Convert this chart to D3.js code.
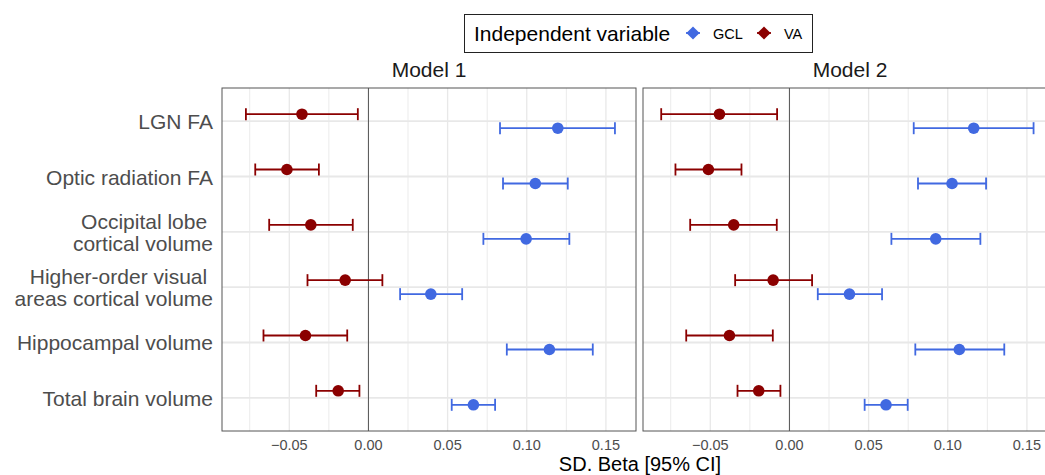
<!DOCTYPE html>
<html>
<head>
<meta charset="utf-8">
<script src="https://cdn.jsdelivr.net/npm/d3@7"></script>
<style>
  body { margin: 0; background: #fff; }
  svg { font-family: "Liberation Sans", Arial, sans-serif; }
  .ylab { white-space: pre; }
</style>
</head>
<body>
<svg id="chart" width="1045" height="475"></svg>
<script>
// outcome rows, top to bottom
var outcomes = ["LGN FA", "Optic radiation FA", "Occipital lobe \ncortical volume",
                "Higher-order visual \nareas cortical volume", "Hippocampal volume", "Total brain volume"];
var models = ["Model 1", "Model 2"];
var groups = ["GCL", "VA"];
var groupColors = ["#4169E1", "#8B0000"];

// Model 1 estimates and 95% CI
var m1_gcl_est = [0.1196, 0.1054, 0.0996, 0.0394, 0.1143, 0.0663];
var m1_gcl_lo  = [0.0831, 0.0850, 0.0726, 0.0200, 0.0874, 0.0526];
var m1_gcl_hi  = [0.1557, 0.1259, 0.1269, 0.0592, 0.1417, 0.0800];
var m1_va_est  = [-0.0420, -0.0515, -0.0364, -0.0147, -0.0398, -0.0191];
var m1_va_lo   = [-0.0774, -0.0715, -0.0627, -0.0385, -0.0663, -0.0330];
var m1_va_hi   = [-0.0067, -0.0313, -0.0099, 0.0088, -0.0134, -0.0057];

// Model 2 estimates and 95% CI
var m2_gcl_est = [0.1164, 0.1027, 0.0924, 0.0379, 0.1073, 0.0610];
var m2_gcl_lo  = [0.0785, 0.0812, 0.0644, 0.0179, 0.0795, 0.0475];
var m2_gcl_hi  = [0.1542, 0.1242, 0.1206, 0.0585, 0.1357, 0.0747];
var m2_va_est  = [-0.0442, -0.0512, -0.0352, -0.0103, -0.0379, -0.0194];
var m2_va_lo   = [-0.0810, -0.0720, -0.0627, -0.0343, -0.0652, -0.0328];
var m2_va_hi   = [-0.0078, -0.0303, -0.0080, 0.0143, -0.0105, -0.0057];

var xTicks = [-0.05, 0, 0.05, 0.10, 0.15];
var xMinor = [-0.075, -0.025, 0.025, 0.075, 0.125];

function buildRows(est, lo, hi, group) {
    return outcomes.map(function(o, i) {
        return {outcome: o, group: group, est: est[i], lo: lo[i], hi: hi[i]};
    });
}
var panelData = [
    buildRows(m1_gcl_est, m1_gcl_lo, m1_gcl_hi, "GCL").concat(buildRows(m1_va_est, m1_va_lo, m1_va_hi, "VA")),
    buildRows(m2_gcl_est, m2_gcl_lo, m2_gcl_hi, "GCL").concat(buildRows(m2_va_est, m2_va_lo, m2_va_hi, "VA"))
];

var svg = d3.select("#chart");
var panelTop = 88, panelBottom = 431, panelW = 414;
var panelLeft = [222, 643];

var y = d3.scalePoint().domain(outcomes).range([panelTop, panelBottom]).padding(0.6);
var dodge = d3.scaleOrdinal().domain(groups).range([7, -7]);
var color = d3.scaleOrdinal().domain(groups).range(groupColors);

panelData.forEach(function(rows, p) {
    var x = d3.scaleLinear().domain([-0.0925, 0.169]).range([panelLeft[p], panelLeft[p] + panelW]);
    var g = svg.append("g");

    g.append("rect").attr("x", panelLeft[p]).attr("y", panelTop)
      .attr("width", panelW).attr("height", panelBottom - panelTop).attr("fill", "#fff");

    g.selectAll(".minor").data(xMinor).enter().append("line")
      .attr("x1", function(d) { return x(d); }).attr("x2", function(d) { return x(d); })
      .attr("y1", panelTop).attr("y2", panelBottom)
      .attr("stroke", "#ebebeb").attr("stroke-width", 1);
    g.selectAll(".major").data(xTicks).enter().append("line")
      .attr("x1", function(d) { return x(d); }).attr("x2", function(d) { return x(d); })
      .attr("y1", panelTop).attr("y2", panelBottom)
      .attr("stroke", "#e8e8e8").attr("stroke-width", 1.3);
    g.selectAll(".hgrid").data(outcomes).enter().append("line")
      .attr("x1", panelLeft[p]).attr("x2", panelLeft[p] + panelW)
      .attr("y1", function(d) { return y(d); }).attr("y2", function(d) { return y(d); })
      .attr("stroke", "#e8e8e8").attr("stroke-width", 1.8);

    // zero reference line
    g.append("line").attr("x1", x(0)).attr("x2", x(0))
      .attr("y1", panelTop).attr("y2", panelBottom)
      .attr("stroke", "#555").attr("stroke-width", 1);

    var bars = g.selectAll(".err").data(rows).enter().append("g")
      .attr("transform", function(d) { return "translate(0," + (y(d.outcome) + dodge(d.group)) + ")"; })
      .attr("stroke", function(d) { return color(d.group); })
      .attr("stroke-width", 1.8);
    bars.append("line").attr("x1", function(d) { return x(d.lo); }).attr("x2", function(d) { return x(d.hi); });
    bars.append("line").attr("x1", function(d) { return x(d.lo); }).attr("x2", function(d) { return x(d.lo); })
      .attr("y1", -6).attr("y2", 6);
    bars.append("line").attr("x1", function(d) { return x(d.hi); }).attr("x2", function(d) { return x(d.hi); })
      .attr("y1", -6).attr("y2", 6);

    g.selectAll(".pt").data(rows).enter().append("circle")
      .attr("cx", function(d) { return x(d.est); })
      .attr("cy", function(d) { return y(d.outcome) + dodge(d.group); })
      .attr("r", 5.8)
      .attr("fill", function(d) { return color(d.group); });

    g.append("rect").attr("x", panelLeft[p]).attr("y", panelTop)
      .attr("width", panelW).attr("height", panelBottom - panelTop)
      .attr("fill", "none").attr("stroke", "#555").attr("stroke-width", 1);

    // strip title
    g.append("text").attr("x", panelLeft[p] + panelW / 2).attr("y", 77)
      .attr("text-anchor", "middle").attr("font-size", 21).attr("fill", "#1a1a1a")
      .text(models[p]);

    // x tick labels
    g.selectAll(".xt").data(xTicks).enter().append("text")
      .attr("x", function(d) { return x(d); }).attr("y", 449.5)
      .attr("text-anchor", "middle").attr("font-size", 14.5).attr("fill", "#4d4d4d")
      .text(function(d) { return d3.format(".2f")(d).replace("-", "\u2212"); });
});

// y labels
var ylab = svg.selectAll(".ylab").data(outcomes).enter().append("text")
    .attr("class", "ylab")
    .attr("text-anchor", "end").attr("font-size", 21).attr("fill", "#4d4d4d");
ylab.each(function(d) {
    var lines = d.split("\n");
    var t = d3.select(this);
    lines.forEach(function(line, i) {
        t.append("tspan").attr("x", 213)
          .attr("y", y(d) + 8 + (i - (lines.length - 1) / 2) * 22)
          .text(line);
    });
});

// x axis title
svg.append("text").attr("x", 640).attr("y", 470.5)
  .attr("text-anchor", "middle").attr("font-size", 20).attr("fill", "#000")
  .text("SD. Beta [95% CI]");

// legend
var leg = svg.append("g");
leg.append("rect").attr("x", 464.5).attr("y", 14.5).attr("width", 348).attr("height", 38)
  .attr("fill", "#fff").attr("stroke", "#222").attr("stroke-width", 1);
leg.append("text").attr("x", 474).attr("y", 41).attr("font-size", 21).attr("fill", "#000")
  .text("Independent variable");
var keyX = [693, 764];
groups.forEach(function(gname, i) {
    leg.append("line").attr("x1", keyX[i] - 7).attr("x2", keyX[i] + 7).attr("y1", 33).attr("y2", 33)
      .attr("stroke", color(gname)).attr("stroke-width", 1.8);
    leg.append("path").attr("d", d3.symbol().type(d3.symbolDiamond2).size(110)())
      .attr("transform", "translate(" + keyX[i] + ",33)")
      .attr("fill", color(gname));
    leg.append("text").attr("x", keyX[i] + 20).attr("y", 38.5).attr("font-size", 14.5).attr("fill", "#000")
      .text(gname);
});
</script>
</body>
</html>
